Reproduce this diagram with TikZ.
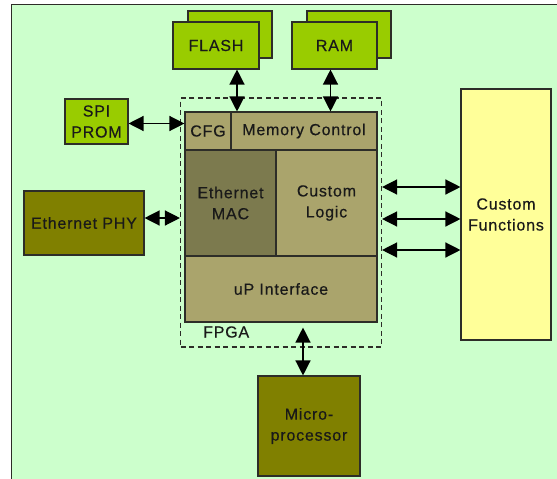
\documentclass[tikz,border=0pt]{standalone}
\usepackage{fontspec}
\setmainfont{Liberation Sans}[LetterSpace=5, FakeBold=0.4]
\usetikzlibrary{arrows.meta}
\definecolor{bggreen}{RGB}{204,255,204}
\definecolor{chipgreen}{RGB}{153,204,0}
\definecolor{olive}{RGB}{128,128,0}
\definecolor{paleyellow}{RGB}{255,255,153}
\definecolor{macfill}{RGB}{124,122,78}
\definecolor{logicfill}{RGB}{170,164,108}
\definecolor{edge}{RGB}{45,45,40}

\begin{document}
\begin{tikzpicture}[x=1pt,y=-1pt,
    font=\fontsize{16}{21}\selectfont,
    blk/.style={draw=edge, line width=1.1pt, align=center, inner sep=0pt, text=black!90},
    link/.style={line width=1.3pt, {Triangle[length=15pt,width=15pt]}-{Triangle[length=15pt,width=15pt]}}]
  \useasboundingbox (0,0) rectangle (557,479);
  \fill[bggreen] (12,5) rectangle (557,479);
  \draw[edge, line width=1.4pt] (11.5,479) -- (11.5,4.5) -- (557,4.5);

  % memories
  \node[blk, fill=chipgreen, minimum width=84pt, minimum height=47pt] (flashb) at (230,34.5) {};
  \node[blk, fill=chipgreen, minimum width=86pt, minimum height=47pt] (flash) at (216,45.5) {FLASH};
  \node[blk, fill=chipgreen, minimum width=84pt, minimum height=47pt] (ramb) at (349,34.5) {};
  \node[blk, fill=chipgreen, minimum width=85pt, minimum height=47pt] (ram) at (334.5,45.5) {RAM};
  \node[blk, fill=chipgreen, minimum width=63pt, minimum height=45pt] (spi) at (96.5,121.5) {SPI\\PROM};
  \node[blk, fill=olive, minimum width=120pt, minimum height=64pt] (phy) at (84,223) {Ethernet PHY};

  % fpga
  \node[draw=edge, dash pattern=on 5pt off 3.5pt, line width=1.1pt, minimum width=201pt, minimum height=249pt] (fpga) at (281,222.5) {};
  \node[blk, fill=logicfill, minimum width=46pt, minimum height=38pt] (cfg) at (208,131) {CFG};
  \node[blk, fill=logicfill, minimum width=146pt, minimum height=38pt] (mem) at (304,131) {Memory Control};
  \node[blk, fill=macfill, minimum width=91pt, minimum height=106pt] (mac) at (230.5,203) {Ethernet\\MAC};
  \node[blk, fill=logicfill, minimum width=101pt, minimum height=106pt] (logic) at (326.5,203) {Custom\\Logic};
  \node[blk, fill=logicfill, minimum width=192pt, minimum height=66pt] (up) at (281,289) {uP Interface};
  \node[anchor=west, inner sep=0pt, text=black!90] (fpgalbl) at (203,332) {FPGA};

  \node[blk, fill=paleyellow, minimum width=90pt, minimum height=251pt] (func) at (506,214.5) {Custom\\Functions};
  \node[blk, fill=olive, minimum width=102pt, minimum height=100pt] (mpu) at (309,426) {Micro-\\processor};

  % links
  \draw[link] ([xshift=21pt]flash.south) -- ([xshift=21pt]flash.south |- mem.north);
  \draw[link] ([xshift=-4pt]ram.south) -- ([xshift=-4pt]ram.south |- mem.north);
  \draw[link] ([yshift=-2pt]spi.east) -- ([yshift=-2pt]spi.east -| cfg.west);
  \draw[link] ([yshift=5pt]phy.east) -- ([yshift=5pt]phy.east -| fpga.west);
  \foreach \y in {187,219,250}
    \draw[link] (fpga.east |- 0,\y) -- (func.west |- 0,\y);
  \draw[link, shorten >=5pt] ([xshift=-6pt]mpu.north) -- ([xshift=-6pt]mpu.north |- up.south);
\end{tikzpicture}
\end{document}
